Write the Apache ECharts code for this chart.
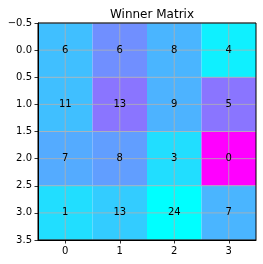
<!DOCTYPE html>
<html><head><meta charset="utf-8">
<script src="https://cdn.jsdelivr.net/npm/echarts@6/dist/echarts.min.js"></script>
<style>html,body{margin:0;padding:0;background:#fff}#c{width:263px;height:264px}</style>
</head><body><div id="c"></div>
<script>
const title = 'Winner Matrix';
const xTicks = [0, 1, 2, 3];
const yTicks = [-0.5, 0, 0.5, 1, 1.5, 2, 2.5, 3, 3.5];
// counts displayed in each cell (row-major)
const counts = [
  [6, 6, 8, 4],
  [11, 13, 9, 5],
  [7, 8, 3, 0],
  [1, 13, 24, 7]
];
// cell shade value on the "cool" colormap (0 = cyan, 1 = magenta)
const shade = [
  [0.25, 0.44, 0.29, 0.06],
  [0.25, 0.54, 0.30, 0.54],
  [0.33, 0.38, 0.13, 1.00],
  [0.13, 0.20, 0.00, 0.29]
];

const cells = [];
for (let r = 0; r < counts.length; r++)
  for (let c = 0; c < counts[r].length; c++)
    cells.push([c, r, counts[r][c], shade[r][c]]);

const fmt = v => (v < 0 ? '\u2212' : '') + Math.abs(v).toFixed(1);
const font = 'DejaVu Sans';
const X0 = -0.5, X1 = 3.5, Y0 = -0.5, Y1 = 3.5;

const chart = echarts.init(document.getElementById('c'), null, {renderer: 'canvas'});
chart.setOption({
  animation: false,
  title: {text: title, left: 147, top: 4, textAlign: 'center',
    textStyle: {fontFamily: font, fontSize: 12, fontWeight: 'normal', color: '#000'}},
  grid: {left: 38, top: 23, width: 218, height: 217, show: true, borderColor: '#000', borderWidth: 1, backgroundColor: 'transparent', z: 4},
  visualMap: {show: false, type: 'continuous', dimension: 3, min: 0, max: 1, seriesIndex: 0,
    inRange: {color: ['#00ffff', '#ff00ff']}},
  xAxis: {type: 'value', min: X0, max: X1, z: 6,
    axisLine: {show: true, onZero: false, lineStyle: {color: '#000', width: 1}},
    axisTick: {show: true, inside: false, customValues: xTicks, length: 3.5, lineStyle: {color: '#000', width: 0.8}},
    axisLabel: {customValues: xTicks, color: '#000', fontFamily: font, fontSize: 10, margin: 6},
    splitLine: {show: false}},
  yAxis: {type: 'value', min: Y0, max: Y1, inverse: true, z: 6,
    axisLine: {show: true, onZero: false, lineStyle: {color: '#000', width: 1}},
    axisTick: {show: true, inside: false, customValues: yTicks, length: 3.5, lineStyle: {color: '#000', width: 0.8}},
    axisLabel: {customValues: yTicks, formatter: fmt, color: '#000', fontFamily: font, fontSize: 10, margin: 6},
    splitLine: {show: false}},
  series: [
    {type: 'custom', z: 1, data: cells, encode: {x: 0, y: 1},
      renderItem: (params, api) => {
        const x = api.value(0), y = api.value(1);
        const p0 = api.coord([x - 0.5, y - 0.5]);
        const p1 = api.coord([x + 0.5, y + 0.5]);
        return {type: 'rect', shape: {x: Math.min(p0[0], p1[0]), y: Math.min(p0[1], p1[1]),
          width: Math.abs(p1[0] - p0[0]), height: Math.abs(p1[1] - p0[1])},
          style: {fill: api.visual('color')}};
      }},
    {type: 'custom', z: 3, silent: true, data: xTicks.map(v => [v, 0]),
      renderItem: (params, api) => {
        const a = api.coord([api.value(0), Y0]), b = api.coord([api.value(0), Y1]);
        return {type: 'line', shape: {x1: a[0], y1: a[1], x2: b[0], y2: b[1]},
          style: {stroke: '#b0b0b0', lineWidth: 0.8}};
      }},
    {type: 'custom', z: 3, silent: true, data: yTicks.map(v => [0, v]),
      renderItem: (params, api) => {
        const a = api.coord([X0, api.value(1)]), b = api.coord([X1, api.value(1)]);
        return {type: 'line', shape: {x1: a[0], y1: a[1], x2: b[0], y2: b[1]},
          style: {stroke: '#b0b0b0', lineWidth: 0.8}};
      }},
    {type: 'custom', z: 5, data: cells, encode: {x: 0, y: 1},
      renderItem: (params, api) => {
        const p = api.coord([api.value(0), api.value(1)]);
        return {type: 'text', x: p[0], y: p[1],
          style: {text: String(api.value(2)), fill: '#000', font: '10px "DejaVu Sans"', align: 'center', verticalAlign: 'middle'}};
      }}
  ]
});
</script></body></html>
